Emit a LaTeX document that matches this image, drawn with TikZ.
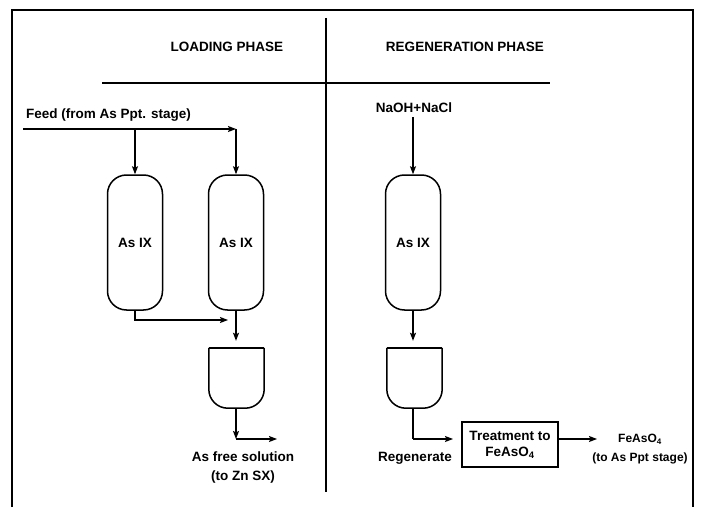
\documentclass[tikz,border=0pt]{standalone}
\usepackage{fontspec}
\setmainfont{Liberation Sans}
\usetikzlibrary{arrows.meta}
\usetikzlibrary{calc}
\tikzset{>={Stealth[length=8pt,width=6pt,inset=1.5pt]}}
\tikzset{lbl/.style={inner sep=1pt,font=\bfseries\fontsize{13.5}{19}\selectfont}}
\tikzset{small/.style={inner sep=1pt,font=\bfseries\fontsize{12}{19}\selectfont}}
\tikzset{ixcol/.style={draw,line width=1.5pt,rounded corners=19pt,minimum width=55pt,minimum height=135pt,inner sep=0pt}}
\tikzset{tank/.style={minimum width=55pt,minimum height=60pt,inner sep=0pt}}
\tikzset{flow/.style={->,line width=1.2pt}}

\begin{document}
\begin{tikzpicture}[x=1pt,y=1pt]
\useasboundingbox (0,0) rectangle (701,507);
% frame and phase split
\draw[line width=2pt] (12,0) -- (12,497) -- (693,497) -- (693,0);
\draw[line width=1.5pt] (326,489) -- (326,15);
\draw[line width=1.5pt] (102,424) -- (550,424);
\node[lbl] (load) at (227,460) {LOADING PHASE};
\node[lbl] (regen) at (465,460) {REGENERATION PHASE};

% loading phase
\node[lbl,anchor=west] (feedtxt) at (25,392) {Feed (from As Ppt. stage)};
\coordinate (feed) at (23,378);
\node[ixcol,lbl] (col1) at (135,264.5) {As IX};
\node[ixcol,lbl] (col2) at (236,264.5) {As IX};
\coordinate (split) at (col2.north |- feed);
\node[tank] (tank1) at (236.5,129) {};
\draw[line width=1.5pt] (tank1.north west) -- (tank1.north east);
\draw[line width=1.5pt,rounded corners=19pt] (tank1.north west) -- (tank1.south west)
 -- (tank1.south east) -- (tank1.north east);

\draw[flow] (feed) -- (split);
\draw[flow] (split) -- (col2.north);
\draw[flow] (col1.north |- feed) -- (col1.north);
\coordinate (merge) at (228,187);
\draw[flow] (col1.south) |- (merge);
\draw[flow,shorten >=7pt] (col2.south) -- (col2.south |- tank1.north);
\coordinate (out1) at (236,68);
\coordinate (sol) at (277,68);
\draw[flow] (col2.south |- tank1.south) -- (out1);
\draw[flow] (out1) -- (sol);
\node[lbl,align=center] (soltxt) at (243,39) {As free solution\\(to Zn SX)};

% regeneration phase
\node[lbl] (caustic) at (414,399) {NaOH+NaCl};
\node[ixcol,lbl] (col3) at (413,264.5) {As IX};
\node[tank] (tank3) at (414.5,129) {};
\draw[line width=1.5pt] (tank3.north west) -- (tank3.north east);
\draw[line width=1.5pt,rounded corners=19pt] (tank3.north west) -- (tank3.south west)
 -- (tank3.south east) -- (tank3.north east);
\node[draw,line width=2pt,lbl,align=center,font=\bfseries\fontsize{13.5}{16}\selectfont,minimum width=96pt,minimum height=45pt] (treat) at (510,62.5) {Treatment to\\FeAsO\textsubscript{4}};
\node[lbl,anchor=north] (regtxt) at (415,56) {Regenerate};
\node[small,align=center] (fe) at (640,58) {FeAsO\textsubscript{4}\\(to As Ppt stage)};
\coordinate (out3) at (413,68);

\draw[flow,shorten <=3pt] (caustic.south -| col3.north) -- (col3.north);
\draw[flow,shorten >=7pt] (col3.south) -- (col3.south |- tank3.north);
\draw[line width=1.2pt] (col3.south |- tank3.south) -- (out3);
\draw[flow,shorten >=8pt] (out3) -- (treat.west |- out3);
\draw[flow] (treat.east |- out3) -- (597,68);
\end{tikzpicture}
\end{document}
